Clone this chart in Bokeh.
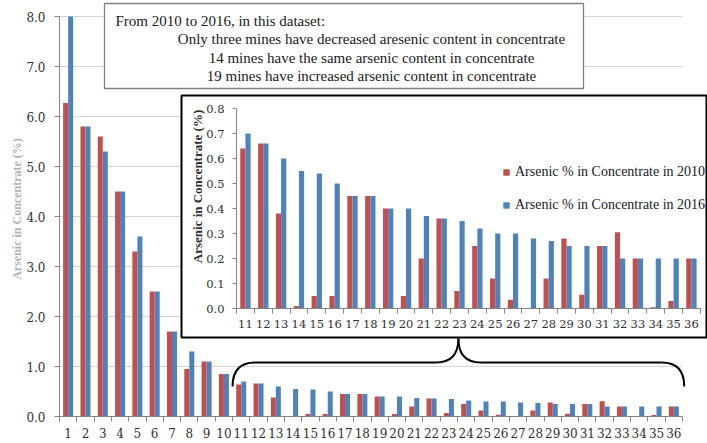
import math

from bokeh.core.properties import value
from bokeh.embed import file_html
from bokeh.models import (ColumnDataSource, FixedTicker, Legend, LegendItem,
                          LinearAxis, NumeralTickFormatter, Range1d, Title)
from bokeh.plotting import figure
from bokeh.resources import INLINE
from bokeh.transform import dodge

# ---- data -----------------------------------------------------------------
mines = list(range(1, 37))
tick_labels = [str(m) for m in mines]
arsenic_2010 = [6.27, 5.80, 5.60, 4.50, 3.30, 2.50, 1.70, 0.95, 1.10, 0.85,
                0.64, 0.66, 0.38, 0.01, 0.05, 0.05, 0.45, 0.45, 0.40, 0.05,
                0.20, 0.36, 0.07, 0.25, 0.12, 0.035, 0.0, 0.12, 0.28, 0.055,
                0.25, 0.305, 0.20, 0.005, 0.03, 0.20]
arsenic_2016 = [8.00, 5.80, 5.30, 4.50, 3.60, 2.50, 1.70, 1.30, 1.10, 0.85,
                0.70, 0.66, 0.60, 0.55, 0.54, 0.50, 0.45, 0.45, 0.40, 0.40,
                0.37, 0.36, 0.35, 0.32, 0.30, 0.30, 0.28, 0.27, 0.25, 0.25,
                0.25, 0.20, 0.20, 0.20, 0.20, 0.20]
main_y_ticks = [0, 1, 2, 3, 4, 5, 6, 7, 8]
inset_y_ticks = [0.0, 0.1, 0.2, 0.3, 0.4, 0.5, 0.6, 0.7, 0.8]
inset_first_mine = 11
series_labels = ["Arsenic % in Concentrate in 2010",
                 "Arsenic % in Concentrate in 2016"]
y_title = "Arsenic in Concentrate (%)"
note_lines = ["From 2010 to 2016, in this dataset:",
              "Only three mines have decreased aresenic content in concentrate",
              "14 mines have the same arsenic content in concentrate",
              "19 mines have increased arsenic content in concentrate"]

# ---- style ----------------------------------------------------------------
RED = "#C0504D"
BLUE = "#4F81BD"
AXIS = "#868686"
GRID = "#D4D4D4"
TEXT = "#303030"
SERIF = "Liberation Serif"
TICK_FONT = "DejaVu Serif"
BAR_W = 0.29

W, H = 707, 443
# frame of the figure in pixels; the full-range chart ends at MAIN_R
FL, FR, FT, FB = 59, W, 1, 416
MAIN_R = 682
X_LO = mines[0] - 0.5
X_END = mines[-1] + 0.5
CAT_PX = (MAIN_R - FL) / (X_END - X_LO)
X_HI = X_LO + (FR - FL) / CAT_PX
Y_PX = 50.0                                   # pixels per 1 % on the main axis
Y_HI = (FB - FT) / Y_PX

# zoomed chart geometry (pixels)
IFL, IFT, IFB = 236, 108, 308
I_CAT_PX = 17.84
BOX_L, BOX_T, BOX_R, BOX_B = 181, 95, 706, 337


def px_x(px):
    return X_LO + (px - FL) / CAT_PX


def px_y(py):
    return (FB - py) / Y_PX


def style_axis(ax, font_size):
    ax.axis_line_color = AXIS
    ax.major_tick_line_color = AXIS
    ax.minor_tick_line_color = AXIS
    ax.major_label_text_color = TEXT
    ax.major_label_text_font = TICK_FONT
    ax.major_label_text_font_size = font_size


def style_x(ax, font_size):
    style_axis(ax, font_size)
    ax.major_tick_out = 0
    ax.major_tick_in = 0
    ax.minor_tick_out = 5
    ax.minor_tick_in = 0
    ax.major_label_standoff = 6


def style_y(ax, font_size, tick_out, standoff):
    style_axis(ax, font_size)
    ax.major_tick_out = tick_out
    ax.major_tick_in = 0
    ax.minor_tick_out = 0
    ax.minor_tick_in = 0
    ax.major_label_standoff = standoff


# ---- figure ------------------------------------------------------------------
p = figure(width=W, height=H, output_backend="svg", toolbar_location=None,
           x_range=Range1d(X_LO, X_HI), y_range=Range1d(0, Y_HI),
           min_border_left=FL, min_border_right=0,
           min_border_top=FT, min_border_bottom=H - FB)
p.outline_line_color = None
p.xgrid.visible = False
p.ygrid.ticker = FixedTicker(ticks=main_y_ticks)
p.ygrid.grid_line_color = GRID
if "cross_bounds" in p.ygrid[0].properties():
    p.ygrid.cross_bounds = (X_LO, X_END)

p.yaxis.ticker = FixedTicker(ticks=main_y_ticks)
p.yaxis.bounds = (main_y_ticks[0], main_y_ticks[-1])
p.yaxis.formatter = NumeralTickFormatter(format="0.0")
style_y(p.yaxis[0], "12px", 5, 9)
p.xaxis.ticker = FixedTicker(ticks=mines,
                             minor_ticks=[m - 0.5 for m in mines] + [mines[-1] + 0.5])
p.xaxis.bounds = (X_LO, X_END)
p.xaxis.major_label_overrides = {m: t for m, t in zip(mines, tick_labels)}
style_x(p.xaxis[0], "12px")

src = ColumnDataSource(dict(mine=mines, a10=arsenic_2010, a16=arsenic_2016))
p.vbar(x=dodge("mine", -BAR_W / 2), top="a10", width=BAR_W, source=src,
       fill_color=RED, line_color=None)
p.vbar(x=dodge("mine", BAR_W / 2), top="a16", width=BAR_W, source=src,
       fill_color=BLUE, line_color=None)

# faint vertical axis title at the far left
p.add_layout(Title(text=y_title, align="center", offset=0, standoff=0,
                   text_font=SERIF, text_font_style="bold",
                   text_font_size="12px", text_color="#b4b4b4"), "left")

# note box at the top
p.quad(left=[px_x(104)], right=[px_x(583)], top=[px_y(3)], bottom=[px_y(88)],
       fill_color="white", line_color="#808080", line_width=1.3)
p.text(x=[px_x(115)], y=[px_y(20)], text=[note_lines[0]],
       text_align="left", text_baseline="middle",
       text_font=value(SERIF), text_font_size="15px", text_color="#202020")
p.text(x=[px_x(371)] * 3, y=[px_y(38), px_y(57), px_y(75)], text=note_lines[1:],
       text_align="center", text_baseline="middle",
       text_font=value(SERIF), text_font_size="15px", text_color="#202020")

# curly brace spanning the mines shown in the zoomed chart
bx0 = inset_first_mine - 0.5
bx1 = mines[-1] + 0.6
bxm = (bx0 + bx1) / 2
b_end, b_mid, b_tip = px_y(386), px_y(362), px_y(BOX_B + 1)
arm = 1.3
p.quadratic(x0=[bx0, bxm - arm, bxm + arm, bx1],
            y0=[b_end, b_mid, b_mid, b_end],
            x1=[bx0 + arm, bxm, bxm, bx1 - arm],
            y1=[b_mid, b_tip, b_tip, b_mid],
            cx=[bx0, bxm, bxm, bx1],
            cy=[b_mid, b_mid, b_mid, b_mid],
            line_color="black", line_width=2)
p.segment(x0=[bx0 + arm, bxm + arm], y0=[b_mid, b_mid],
          x1=[bxm - arm, bx1 - arm], y1=[b_mid, b_mid],
          line_color="black", line_width=2)

# ---- zoomed chart (own ranges, drawn inside a framed white box) -------------
k = inset_first_mine - 1
sub_mines = mines[k:]
ix0 = sub_mines[0] - 0.5
iy_px = (IFB - IFT) / (inset_y_ticks[-1] - inset_y_ticks[0])
p.extra_x_ranges = {"ix": Range1d(ix0 - (IFL - FL) / I_CAT_PX,
                                  ix0 + (FR - IFL) / I_CAT_PX)}
p.extra_y_ranges = {"iy": Range1d(inset_y_ticks[0] - (FB - IFB) / iy_px,
                                  inset_y_ticks[-1] + (IFT - FT) / iy_px)}

p.quad(left=[px_x(BOX_L)], right=[px_x(BOX_R)], top=[px_y(BOX_T)], bottom=[px_y(BOX_B)],
       fill_color="white", line_color="black", line_width=2)

isrc = ColumnDataSource(dict(mine=sub_mines, a10=arsenic_2010[k:], a16=arsenic_2016[k:]))
r10 = p.vbar(x=dodge("mine", -BAR_W / 2), top="a10", width=BAR_W, source=isrc,
             fill_color=RED, line_color=None, x_range_name="ix", y_range_name="iy")
r16 = p.vbar(x=dodge("mine", BAR_W / 2), top="a16", width=BAR_W, source=isrc,
             fill_color=BLUE, line_color=None, x_range_name="ix", y_range_name="iy")

ix_axis = LinearAxis(x_range_name="ix", y_range_name="iy",
                     fixed_location=inset_y_ticks[0],
                     bounds=(ix0, sub_mines[-1] + 0.5),
                     ticker=FixedTicker(ticks=sub_mines,
                                        minor_ticks=[m - 0.5 for m in sub_mines]
                                        + [sub_mines[-1] + 0.5]),
                     major_label_overrides={m: t for m, t in zip(sub_mines, tick_labels[k:])})
style_x(ix_axis, "11.5px")
p.add_layout(ix_axis, "below")

iy_axis = LinearAxis(x_range_name="ix", y_range_name="iy",
                     fixed_location=ix0,
                     bounds=(inset_y_ticks[0], inset_y_ticks[-1]),
                     ticker=FixedTicker(ticks=inset_y_ticks),
                     formatter=NumeralTickFormatter(format="0.0"))
style_y(iy_axis, "11.5px", 4, 8)
p.add_layout(iy_axis, "left")

p.text(x=[ix0 + (197 - IFL) / I_CAT_PX], y=[(IFB - 186) / iy_px], text=[y_title],
       angle=math.pi / 2, text_align="center", text_baseline="middle",
       text_font=value(SERIF), text_font_style="bold", text_font_size="13px",
       text_color="#303030", x_range_name="ix", y_range_name="iy")

legend = Legend(items=[LegendItem(label=series_labels[0], renderers=[r10]),
                       LegendItem(label=series_labels[1], renderers=[r16])],
                location=(502 - FL, FB - 215), orientation="vertical",
                padding=0, margin=0, spacing=13, label_height=20,
                glyph_width=8, glyph_height=8, label_standoff=5,
                label_text_font=SERIF, label_text_font_size="14px",
                label_text_color="#202020",
                border_line_alpha=0, background_fill_alpha=0)
p.add_layout(legend)

open("out.html", "w").write(file_html(p, INLINE))
